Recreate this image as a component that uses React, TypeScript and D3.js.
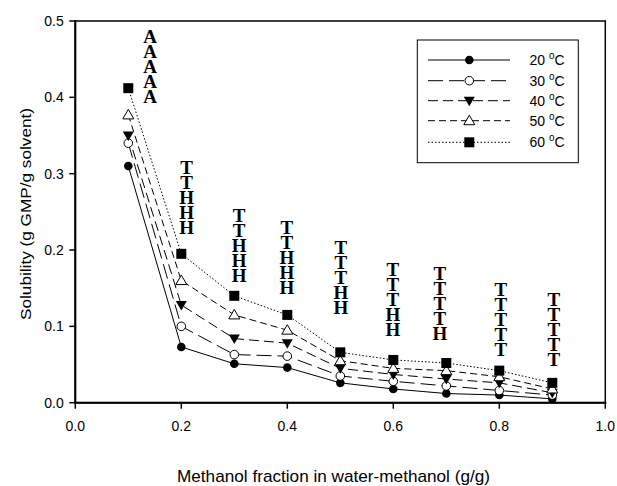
import React from "react";
import * as d3 from "d3";

const methanol = [0.1, 0.2, 0.3, 0.4, 0.5, 0.6, 0.7, 0.8, 0.9];
const temps = ["20", "30", "40", "50", "60"];
const s20 = [0.31, 0.073, 0.051, 0.046, 0.026, 0.018, 0.012, 0.01, 0.005];
const s30 = [0.34, 0.1, 0.063, 0.061, 0.035, 0.028, 0.022, 0.016, 0.01];
const s40 = [0.35, 0.128, 0.084, 0.078, 0.045, 0.037, 0.031, 0.026, 0.013];
const s50 = [0.377, 0.16, 0.115, 0.095, 0.055, 0.045, 0.042, 0.034, 0.018];
const s60 = [0.412, 0.195, 0.14, 0.115, 0.066, 0.056, 0.052, 0.042, 0.026];
const xTicks = [0, 0.2, 0.4, 0.6, 0.8, 1.0];
const yTicks = [0, 0.1, 0.2, 0.3, 0.4, 0.5];
const letterX = [0.141, 0.21, 0.309, 0.399, 0.501, 0.599, 0.688, 0.803, 0.903];
const letterGroups = ["AAAAA", "TTHHH", "TTHHH", "TTHHH", "TTTHH", "TTTHH", "TTTTH", "TTTTT", "TTTTT"];
const letterBaseY = [0.392, 0.22, 0.158, 0.142, 0.116, 0.0865, 0.082, 0.06, 0.048];

const seriesVals = [s20, s30, s40, s50, s60];
const dashes = ["", "15,6", "10,5", "7,4", "1.5,2"];
const markers = ["circleF", "circleO", "triDownF", "triUpO", "squareF"];

function Marker({ type, x, y }: { type: string; x: number; y: number }) {
  if (type === "circleF") return <circle cx={x} cy={y} r={4.3} fill="black" />;
  if (type === "circleO") return <circle cx={x} cy={y} r={4.3} fill="white" stroke="black" strokeWidth={1} />;
  if (type === "squareF") return <rect x={x - 5} y={y - 5} width={10} height={10} fill="black" />;
  if (type === "triDownF")
    return <path d={`M${x - 5.5},${y - 4} L${x + 5.5},${y - 4} L${x},${y + 5.5} Z`} fill="black" />;
  return <path d={`M${x - 5.5},${y + 4} L${x + 5.5},${y + 4} L${x},${y - 5.5} Z`} fill="white" stroke="black" strokeWidth={1} />;
}

export default function App() {
  const W = 617, H = 486;
  const x = d3.scaleLinear().domain([0, 1]).range([75.3, 605.3]);
  const y = d3.scaleLinear().domain([0, 0.5]).range([402.7, 21]);
  const line = d3.line<[number, number]>().x((d) => x(d[0])).y((d) => y(d[1]));
  const font = "Arial, 'Liberation Sans', sans-serif";
  const legRowY = [60, 80.7, 100.7, 120.7, 142.3];

  return (
    <svg width={W} height={H} style={{ position: "absolute", left: 0, top: 0 }} fontFamily={font}>
      <rect width={W} height={H} fill="white" />
      {/* frame */}
      <rect x={x(0)} y={y(0.5)} width={x(1) - x(0)} height={y(0) - y(0.5)} fill="none" stroke="black" strokeWidth={1.5} />
      <line x1={x(0)} x2={x(0)} y1={y(0.5) - 1} y2={y(0) + 1} stroke="black" strokeWidth={2} />
      <line x1={x(0) - 1} x2={x(1) + 1} y1={y(0)} y2={y(0)} stroke="black" strokeWidth={2} />
      {/* y ticks */}
      {yTicks.map((t) => (
        <g key={"y" + t}>
          <line x1={x(0) - 6} x2={x(0)} y1={y(t)} y2={y(t)} stroke="black" strokeWidth={1.5} />
          <text x={x(0) - 11.5} y={y(t) + 5} textAnchor="end" fontSize={14}>{t.toFixed(1)}</text>
        </g>
      ))}
      {xTicks.map((t) => (
        <g key={"x" + t}>
          <line x1={x(t)} x2={x(t)} y1={y(0)} y2={y(0) + 6} stroke="black" strokeWidth={1.5} />
          <text x={x(t)} y={431} textAnchor="middle" fontSize={14}>{t.toFixed(1)}</text>
        </g>
      ))}
      <text x={333.5} y={482} textAnchor="middle" fontSize={17} textLength={313} lengthAdjust="spacingAndGlyphs">
        Methanol fraction in water-methanol (g/g)
      </text>
      <text transform={`translate(31,214) rotate(-90)`} textAnchor="middle" fontSize={15} textLength={212} lengthAdjust="spacingAndGlyphs">
        Solubility (g GMP/g solvent)
      </text>
      {/* series */}
      {seriesVals.map((vals, i) => {
        const pts = methanol.map((m, j) => [m, vals[j]] as [number, number]);
        return (
          <path key={"s" + i} d={line(pts) || ""} fill="none" stroke="black" strokeWidth={1} strokeDasharray={dashes[i] || undefined} />
        );
      })}
      {seriesVals.map((vals, i) => (
        <g key={"m" + i}>
          {methanol.map((m, j) => (
            <Marker key={j} type={markers[i]} x={x(m)} y={y(vals[j])} />
          ))}
        </g>
      ))}
      {/* letters */}
      {letterGroups.map((g, i) => (
        <text
          key={"l" + i}
          x={x(letterX[i])}
          y={y(letterBaseY[i]) - 2.5}
          textAnchor="end"
          fontSize={19}
          fontWeight="bold"
          fontFamily="'Liberation Serif', 'Times New Roman', serif"
          style={{ writingMode: "vertical-rl", textOrientation: "upright", letterSpacing: "-6px" }}
        >
          {g}
        </text>
      ))}
      {/* legend */}
      <rect x={417.3} y={40} width={161} height={122.7} fill="white" stroke="black" strokeWidth={1} />
      {temps.map((t, i) => (
        <g key={"lg" + i}>
          <line x1={428} x2={510} y1={legRowY[i]} y2={legRowY[i]} stroke="black" strokeWidth={1} strokeDasharray={dashes[i] || undefined} />
          <Marker type={markers[i]} x={469.3} y={legRowY[i]} />
          <text x={529.5} y={legRowY[i] + 5} fontSize={14}>
            {t + " "}
            <tspan fontSize={10} dy={-6}>o</tspan>
            <tspan dy={6}>C</tspan>
          </text>
        </g>
      ))}
    </svg>
  );
}
